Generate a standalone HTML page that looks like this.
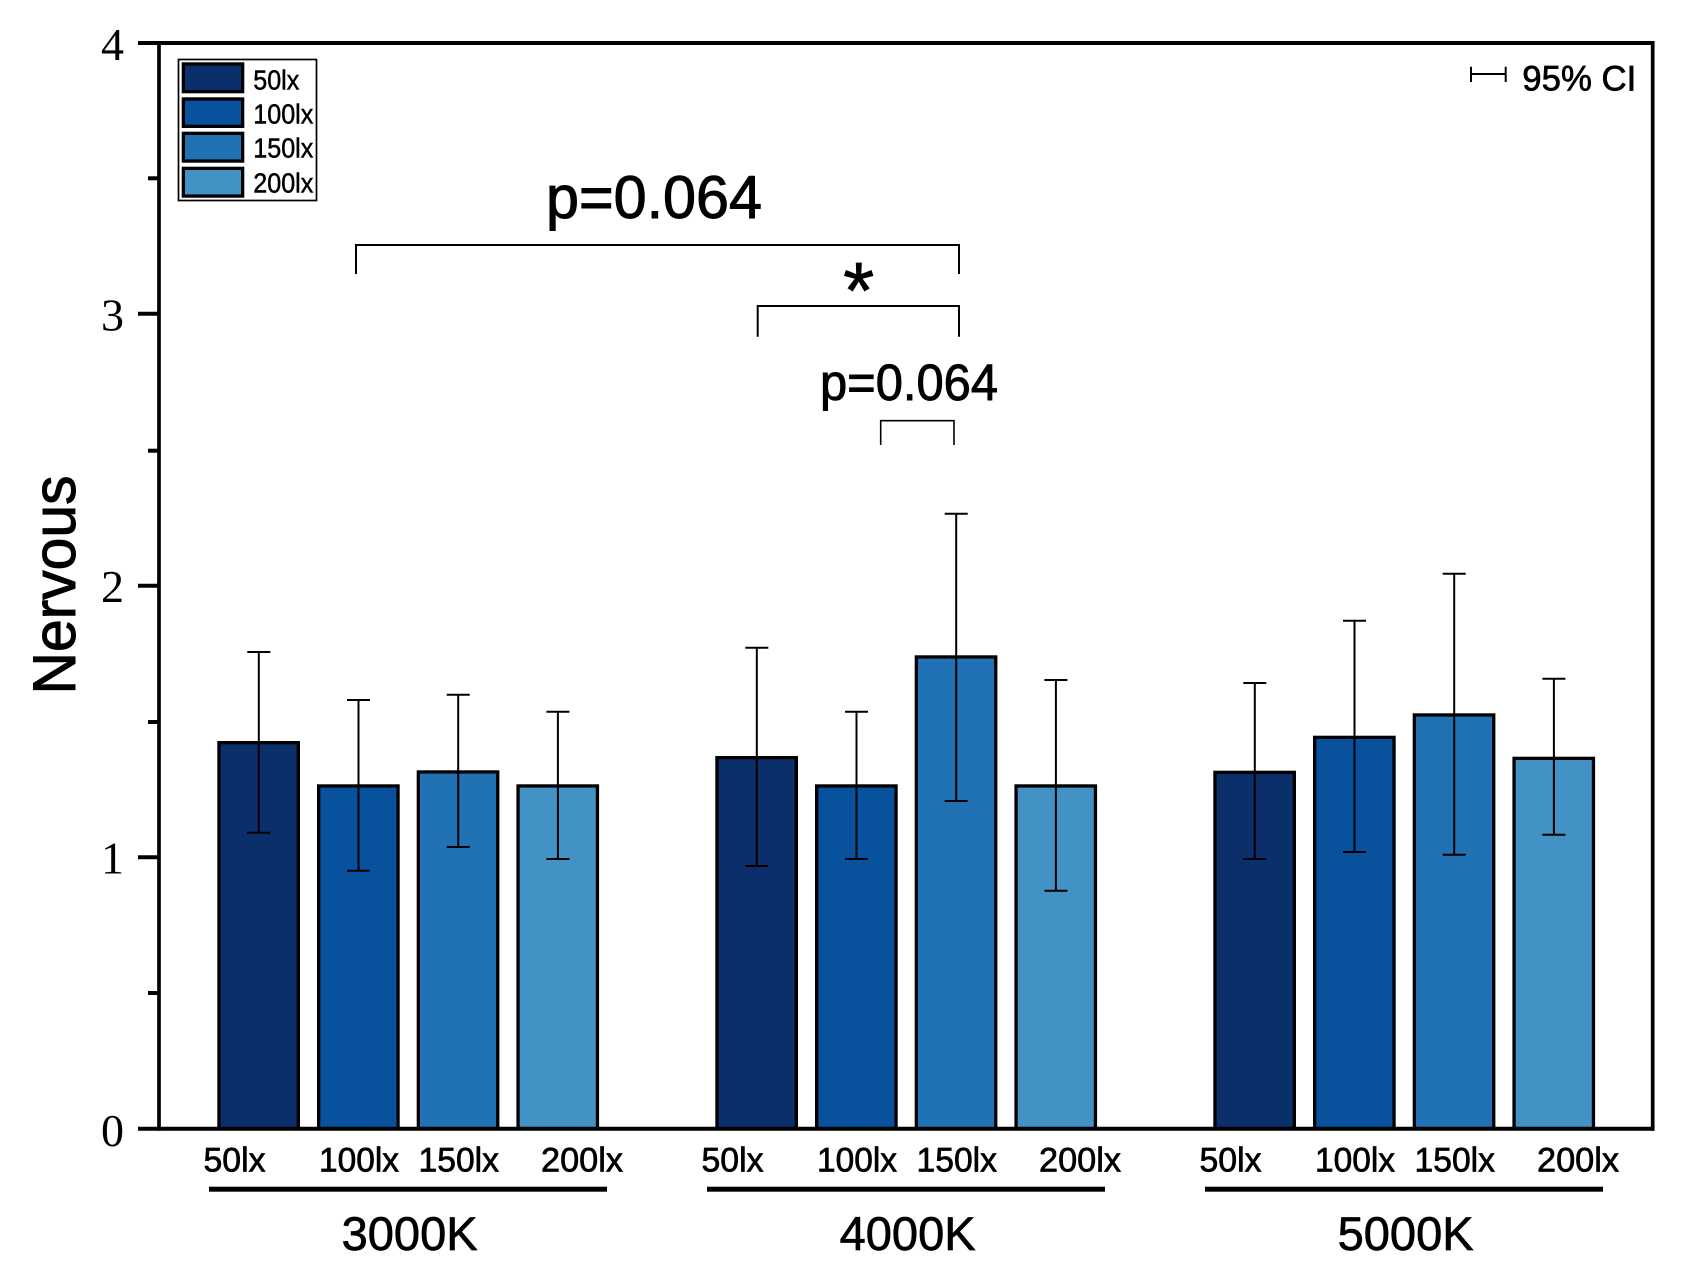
<!DOCTYPE html>
<html><head><meta charset="utf-8"><style>html,body{margin:0;padding:0;background:#fff}svg{display:block}</style></head>
<body>
<svg width="1686" height="1279" viewBox="0 0 1686 1279" xmlns="http://www.w3.org/2000/svg" font-family="'Liberation Sans', 'DejaVu Sans', sans-serif">
<rect width="1686" height="1279" fill="#fff"/>

<!-- Bars group 1 -->
<g stroke="#000" stroke-width="3.3">
<rect x="218.95" y="742.65" width="79.4" height="390" fill="#0a2f6a"/>
<rect x="318.65" y="785.95" width="79.4" height="350" fill="#08519c"/>
<rect x="418.35" y="771.95" width="79.4" height="360" fill="#2171b5"/>
<rect x="518.05" y="785.95" width="79.4" height="350" fill="#4292c6"/>
<!-- group 2 -->
<rect x="716.95" y="757.65" width="79.4" height="380" fill="#0a2f6a"/>
<rect x="816.65" y="785.95" width="79.4" height="350" fill="#08519c"/>
<rect x="916.35" y="656.95" width="79.4" height="480" fill="#2171b5"/>
<rect x="1016.05" y="785.95" width="79.4" height="350" fill="#4292c6"/>
<!-- group 3 -->
<rect x="1214.95" y="772.35" width="79.4" height="360" fill="#0a2f6a"/>
<rect x="1314.65" y="737.35" width="79.4" height="400" fill="#08519c"/>
<rect x="1414.35" y="714.95" width="79.4" height="420" fill="#2171b5"/>
<rect x="1514.05" y="758.35" width="79.4" height="380" fill="#4292c6"/>
</g>

<!-- white mask below axis -->
<rect x="160" y="1130.5" width="1500" height="30" fill="#fff"/>

<!-- Error bars -->
<g stroke="#000" stroke-width="2" fill="none">
<path d="M258.8,652 V832.7 M247.3,652 H270.3 M247.3,832.7 H270.3"/>
<path d="M358.5,700 V870.7 M347,700 H370 M347,870.7 H370"/>
<path d="M458.2,694.7 V847 M446.7,694.7 H469.7 M446.7,847 H469.7"/>
<path d="M557.9,711.7 V859 M546.4,711.7 H569.4 M546.4,859 H569.4"/>

<path d="M756.8,647.7 V866 M745.3,647.7 H768.3 M745.3,866 H768.3"/>
<path d="M856.5,711.7 V859 M845,711.7 H868 M845,859 H868"/>
<path d="M956.2,513.7 V801 M944.7,513.7 H967.7 M944.7,801 H967.7"/>
<path d="M1055.9,680 V890.7 M1044.4,680 H1067.4 M1044.4,890.7 H1067.4"/>

<path d="M1254.8,683 V859 M1243.3,683 H1266.3 M1243.3,859 H1266.3"/>
<path d="M1354.5,620.7 V852 M1343,620.7 H1366 M1343,852 H1366"/>
<path d="M1454.2,573.7 V854.7 M1442.7,573.7 H1465.7 M1442.7,854.7 H1465.7"/>
<path d="M1553.9,678.7 V834.7 M1542.4,678.7 H1565.4 M1542.4,834.7 H1565.4"/>
</g>

<!-- Axes frame -->
<g stroke="#000" fill="none">
<line x1="138" y1="43" x2="1654.5" y2="43" stroke-width="4"/>
<line x1="138" y1="1128.7" x2="1654.5" y2="1128.7" stroke-width="4"/>
<line x1="159" y1="41" x2="159" y2="1130.7" stroke-width="3.7"/>
<line x1="1652.7" y1="41" x2="1652.7" y2="1130.7" stroke-width="3.7"/>
<!-- major ticks -->
<line x1="138" y1="313.7" x2="159" y2="313.7" stroke-width="4"/>
<line x1="138" y1="585.7" x2="159" y2="585.7" stroke-width="4"/>
<line x1="138" y1="857.2" x2="159" y2="857.2" stroke-width="4"/>
<!-- minor ticks -->
<line x1="148" y1="178.3" x2="159" y2="178.3" stroke-width="4"/>
<line x1="148" y1="450.7" x2="159" y2="450.7" stroke-width="4"/>
<line x1="148" y1="722" x2="159" y2="722" stroke-width="4"/>
<line x1="148" y1="993" x2="159" y2="993" stroke-width="4"/>
</g>

<!-- Y tick labels -->
<g font-family="'Liberation Serif', serif" font-size="46" text-anchor="end" fill="#000">
<text x="124" y="60">4</text>
<text x="124" y="330.5">3</text>
<text x="124" y="602">2</text>
<text x="124" y="873.5">1</text>
<text x="124" y="1146">0</text>
</g>

<g fill="#000" stroke="#000" stroke-width="0.7">
<!-- Y axis title -->
<text transform="translate(75,585) rotate(-90)" text-anchor="middle" font-size="60" textLength="219" lengthAdjust="spacingAndGlyphs" stroke-width="1">Nervous</text>

<!-- X tick labels -->
<g font-size="34">
<text x="203.5" y="1171.7" textLength="62" lengthAdjust="spacingAndGlyphs">50lx</text>
<text x="319" y="1171.7" textLength="80" lengthAdjust="spacingAndGlyphs">100lx</text>
<text x="418.5" y="1171.7" textLength="80.5" lengthAdjust="spacingAndGlyphs">150lx</text>
<text x="541" y="1171.7" textLength="82" lengthAdjust="spacingAndGlyphs">200lx</text>

<text x="701.5" y="1171.7" textLength="62" lengthAdjust="spacingAndGlyphs">50lx</text>
<text x="817" y="1171.7" textLength="80" lengthAdjust="spacingAndGlyphs">100lx</text>
<text x="916.5" y="1171.7" textLength="80.5" lengthAdjust="spacingAndGlyphs">150lx</text>
<text x="1039" y="1171.7" textLength="82" lengthAdjust="spacingAndGlyphs">200lx</text>

<text x="1199.5" y="1171.7" textLength="62" lengthAdjust="spacingAndGlyphs">50lx</text>
<text x="1315" y="1171.7" textLength="80" lengthAdjust="spacingAndGlyphs">100lx</text>
<text x="1414.5" y="1171.7" textLength="80.5" lengthAdjust="spacingAndGlyphs">150lx</text>
<text x="1537" y="1171.7" textLength="82" lengthAdjust="spacingAndGlyphs">200lx</text>
</g>

<!-- Group labels -->
<g font-size="47" text-anchor="middle">
<text x="409.6" y="1250" textLength="136" lengthAdjust="spacingAndGlyphs">3000K</text>
<text x="907.6" y="1250" textLength="136" lengthAdjust="spacingAndGlyphs">4000K</text>
<text x="1405.6" y="1250" textLength="136" lengthAdjust="spacingAndGlyphs">5000K</text>
</g>

<text x="546" y="218" font-size="60" textLength="216" lengthAdjust="spacingAndGlyphs" stroke-width="1">p=0.064</text>
<text x="858.7" y="318" font-size="80" text-anchor="middle">*</text>
<text x="820" y="400" font-size="51" textLength="178" lengthAdjust="spacingAndGlyphs" stroke-width="0.9">p=0.064</text>

<g font-size="28" stroke-width="0.5">
<text x="253.3" y="89.3" textLength="46" lengthAdjust="spacingAndGlyphs">50lx</text>
<text x="253.3" y="123.7" textLength="60" lengthAdjust="spacingAndGlyphs">100lx</text>
<text x="253.3" y="157.3" textLength="60" lengthAdjust="spacingAndGlyphs">150lx</text>
<text x="253.3" y="192.3" textLength="60" lengthAdjust="spacingAndGlyphs">200lx</text>
</g>
<text x="1522.3" y="90.7" font-size="35" textLength="114" lengthAdjust="spacingAndGlyphs">95% CI</text>
</g>

<!-- Group underlines -->
<g fill="#000">
<rect x="209" y="1186.7" width="398" height="5"/>
<rect x="707" y="1186.7" width="398" height="5"/>
<rect x="1205" y="1186.7" width="398" height="5"/>
</g>

<!-- Significance brackets -->
<g stroke="#000" stroke-width="2" fill="none">
<path d="M356,274 V245 H959 V274"/>
<path d="M757.7,336.7 V306 H959 V336.7"/>
<path d="M880.7,445 V420.7 H954 V445" stroke-width="1.6"/>
</g>

<!-- Legend -->
<rect x="178.5" y="59.5" width="138" height="141" fill="none" stroke="#000" stroke-width="1.7"/>
<g stroke="#000" stroke-width="3.3">
<rect x="183.35" y="63.95" width="59.3" height="27.7" fill="#0a2f6a"/>
<rect x="183.35" y="98.95" width="59.3" height="27.4" fill="#08519c"/>
<rect x="183.35" y="133.35" width="59.3" height="27.7" fill="#2171b5"/>
<rect x="183.35" y="168.35" width="59.3" height="27.7" fill="#4292c6"/>
</g>

<!-- 95% CI legend -->
<g stroke="#000" stroke-width="2" fill="none">
<path d="M1470,74 H1506.7 M1471,66.7 V82 M1505.7,66.7 V82"/>
</g>
</svg>
</body></html>
